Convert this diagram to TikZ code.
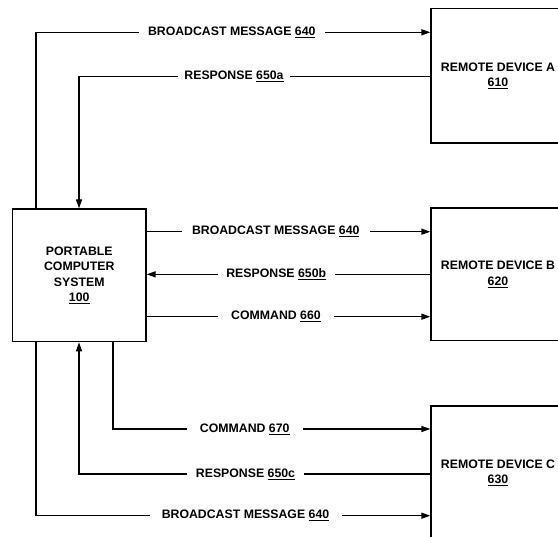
\documentclass[tikz,border=0pt]{standalone}
\usepackage{fontspec}
\setmainfont{Liberation Sans}
\usetikzlibrary{arrows.meta}
\begin{document}
\begin{tikzpicture}[x=1pt,y=-1pt,
  every node/.style={font=\fontsize{12.3}{15.3}\selectfont\bfseries},
  box/.style={draw, line width=1.3pt, align=center, inner sep=0pt},
  lbl/.style={fill=white, inner xsep=0pt, inner ysep=2pt, minimum width=#1},
  conn/.style={line width=1.3pt},
  arr/.style={conn, -{Triangle[length=9pt,width=6pt]}}]
\useasboundingbox (0,0) rectangle (558,537);
% boxes
\node[box, minimum width=133.5pt, minimum height=132.7pt] (pcs) at (79.25,275.35)
  {PORTABLE\\COMPUTER\\SYSTEM\\\underline{100}};
\node[box, minimum width=134pt, minimum height=134.7pt] (A) at (498,75.65)
  {REMOTE DEVICE A\\\underline{610}};
\node[box, minimum width=134pt, minimum height=132.7pt] (B) at (498,274.35)
  {REMOTE DEVICE B\\\underline{620}};
\node[box, minimum width=134pt, minimum height=134pt] (C) at (498,473)
  {REMOTE DEVICE C\\\underline{630}};
% helper coordinates
\coordinate (cL) at (36,0);
\coordinate (cM) at (79,0);
\coordinate (cR) at (113,0);
\coordinate (yT) at (0,32.3);
\coordinate (yA) at (0,76.7);
\coordinate (yB1) at (0,231.7);
\coordinate (yB3) at (0,316.7);
\coordinate (yC1) at (0,429);
\coordinate (yC2) at (0,474);
\coordinate (yC3) at (0,515.7);
% connectors
\draw[arr] (pcs.north -| cL) |- (A.west |- yT);
\draw[arr] (A.west |- yA) -| (pcs.north -| cM);
\draw[arr] (pcs.east |- yB1) -- (B.west |- yB1);
\draw[arr] (B.west) -- (B.west -| pcs.east);
\draw[arr] (pcs.east |- yB3) -- (B.west |- yB3);
\draw[arr] (pcs.south -| cR) |- (C.west |- yC1);
\draw[arr] (C.west |- yC2) -| (pcs.south -| cM);
\draw[arr] (pcs.south -| cL) |- (C.west |- yC3);
% labels
\node[lbl=185.5pt] (l1) at (231.75,32.3) {BROADCAST MESSAGE \underline{640}};
\node[lbl=112pt] (l2) at (234,76.7) {RESPONSE \underline{650a}};
\node[lbl=188.5pt] (l3) at (275.75,231.7) {BROADCAST MESSAGE \underline{640}};
\node[lbl=116.5pt] (l4) at (276.25,274.35) {RESPONSE \underline{650b}};
\node[lbl=116pt] (l5) at (276,316.7) {COMMAND \underline{660}};
\node[lbl=115.5pt] (l6) at (244.75,429) {COMMAND \underline{670}};
\node[lbl=117pt] (l7) at (245.5,474) {RESPONSE \underline{650c}};
\node[lbl=192pt] (l8) at (245.5,515.7) {BROADCAST MESSAGE \underline{640}};
\end{tikzpicture}
\end{document}
